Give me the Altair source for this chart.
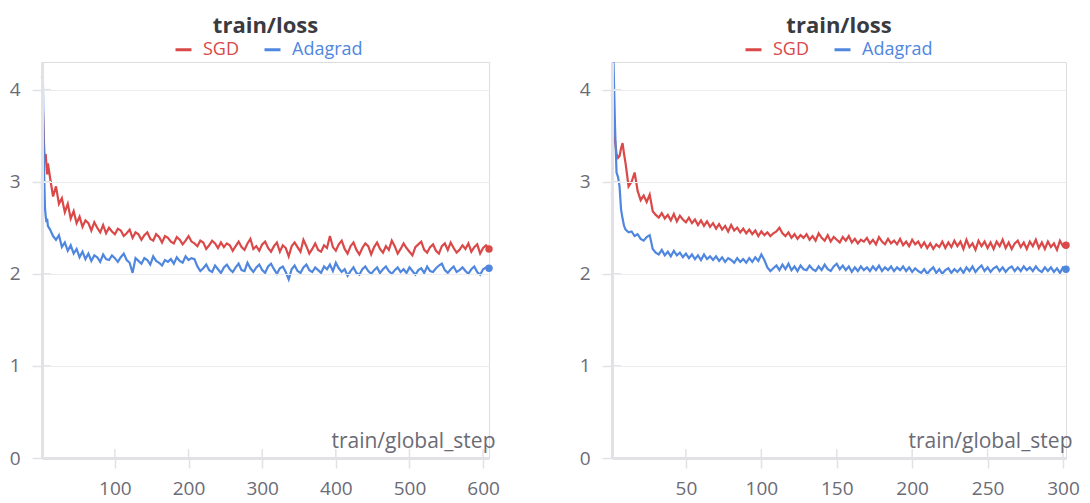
import altair as alt
import pandas as pd

RED = "#da4848"
BLUE = "#4f87df"
AXIS_C = "#e2e2e6"
GRID_C = "#ececef"
TEXT_C = "#6b6b76"
TITLE_C = "#3a3a3f"
FONT = "Open Sans"

SERIES = ["SGD", "Adagrad"]
Y_TICKS = [0, 1, 2, 3, 4]
L_XTICKS = [100, 200, 300, 400, 500, 600]
R_XTICKS = [50, 100, 150, 200, 250, 300]

# ---- left panel (train/global_step 1..608) ----
L_STEPS = list(range(1, 10)) + list(range(12, 609, 4))
L_SGD = [
    4.15, 3.85, 3.6, 3.35, 3.22, 3.3, 3.18, 3.08, 3.2,
    3.04, 2.84, 2.95, 2.76, 2.82, 2.67, 2.76, 2.6, 2.68, 2.55,
    2.62, 2.51, 2.58, 2.55, 2.47, 2.56, 2.5, 2.45, 2.53, 2.44,
    2.5, 2.46, 2.43, 2.49, 2.47, 2.41, 2.44, 2.48, 2.39, 2.45,
    2.43, 2.37, 2.42, 2.45, 2.38, 2.36, 2.43, 2.4, 2.34, 2.41,
    2.39, 2.35, 2.33, 2.4, 2.37, 2.32, 2.36, 2.41, 2.35, 2.33,
    2.3, 2.36, 2.34, 2.27, 2.31, 2.36, 2.33, 2.28, 2.34, 2.29,
    2.33, 2.31, 2.25, 2.3, 2.35, 2.29, 2.26, 2.33, 2.38, 2.27,
    2.3, 2.25, 2.32, 2.35, 2.28, 2.24, 2.3, 2.34, 2.24, 2.31,
    2.28, 2.19, 2.3, 2.34, 2.29, 2.24, 2.37, 2.3, 2.22, 2.27,
    2.33, 2.26, 2.24, 2.31, 2.28, 2.41, 2.29, 2.25, 2.32, 2.36,
    2.27, 2.22, 2.3, 2.34, 2.26, 2.21, 2.28, 2.33, 2.3, 2.21,
    2.29, 2.34, 2.27, 2.23, 2.3, 2.26, 2.36, 2.3, 2.22, 2.27,
    2.33, 2.28, 2.24, 2.2, 2.29, 2.32, 2.35, 2.26, 2.23, 2.29,
    2.32, 2.25, 2.22, 2.3, 2.33, 2.26, 2.34, 2.28, 2.23, 2.26,
    2.31, 2.27, 2.33, 2.24, 2.29, 2.32, 2.22, 2.28, 2.31, 2.27,
]
L_ADA = [
    2.92, 4.28, 3.55, 3.05, 2.72, 2.63, 2.56, 2.6, 2.52,
    2.48, 2.41, 2.37, 2.42, 2.29, 2.34, 2.25, 2.31, 2.22, 2.27,
    2.18, 2.24, 2.16, 2.22, 2.14, 2.2, 2.18, 2.13, 2.21, 2.16,
    2.15, 2.2, 2.17, 2.13, 2.18, 2.22, 2.15, 2.12, 2.01, 2.17,
    2.14, 2.11, 2.17, 2.15, 2.1, 2.19, 2.14, 2.12, 2.09, 2.15,
    2.13, 2.16, 2.11, 2.18, 2.14, 2.12, 2.19, 2.15, 2.17, 2.16,
    2.08, 2.03, 2.06, 2.1, 2.04, 2.02, 2.09, 2.05, 2.01, 2.07,
    2.1, 2.05, 2.02, 2.07, 2.11, 2.04, 2.03, 2.12, 2.06, 2.02,
    2.07, 2.1, 2.04, 2.01, 2.08, 2.11, 2.05, 2.0, 2.06, 2.08,
    2.02, 1.94, 2.05, 2.09, 2.03, 2.01, 2.07, 2.1, 2.04, 2.02,
    2.07, 2.04, 2.01, 2.08, 2.05, 2.1, 2.03, 2.12, 2.06, 2.02,
    2.05, 1.98, 2.03, 2.07, 2.01, 1.99, 2.05, 2.08, 2.03, 2.0,
    2.04, 2.07, 2.01, 2.05, 2.08, 2.03, 2.0, 2.04, 2.07, 2.02,
    2.05, 2.01, 2.07, 2.03, 1.99, 2.04, 2.06, 2.01, 2.08, 2.03,
    2.02, 2.06, 2.09, 2.11, 2.04, 2.01, 2.05, 2.08, 2.02, 2.04,
    2.07, 2.03, 2.0, 2.05, 2.08, 2.02, 1.99, 2.05, 2.07, 2.06,
]

# ---- right panel (train/global_step 1..302) ----
R_STEPS = list(range(1, 10)) + list(range(10, 303, 2))
R_SGD = [
    3.95, 3.6, 3.45, 3.3, 3.26, 3.28, 3.36, 3.42, 3.3,
    3.2, 2.95, 3.0, 3.1, 2.9, 2.8, 2.85, 2.78, 2.86, 2.68,
    2.64, 2.61, 2.66, 2.6, 2.64, 2.58, 2.65, 2.57, 2.63, 2.59,
    2.56, 2.61, 2.55, 2.59, 2.53, 2.58, 2.52, 2.57, 2.51, 2.55,
    2.49, 2.54, 2.48, 2.52, 2.46, 2.53, 2.47, 2.5, 2.45, 2.49,
    2.44, 2.48, 2.43, 2.47, 2.41, 2.46, 2.42, 2.45, 2.41, 2.44,
    2.46, 2.5, 2.44, 2.41, 2.45, 2.39, 2.43, 2.38, 2.42, 2.39,
    2.43, 2.37, 2.41, 2.36, 2.44, 2.39, 2.36, 2.42, 2.35, 2.4,
    2.37, 2.34, 2.4, 2.36, 2.41, 2.34, 2.38, 2.33, 2.37, 2.35,
    2.39, 2.33, 2.37, 2.32, 2.4, 2.35, 2.32, 2.38, 2.33, 2.36,
    2.32, 2.38, 2.31, 2.35, 2.3, 2.37, 2.32, 2.35, 2.29, 2.34,
    2.28, 2.33, 2.27, 2.32, 2.29, 2.35, 2.28, 2.34, 2.29, 2.36,
    2.3, 2.35, 2.27, 2.37, 2.29, 2.33, 2.26, 2.36, 2.3, 2.35,
    2.28, 2.34, 2.27, 2.35, 2.3, 2.37, 2.28, 2.34, 2.27, 2.33,
    2.36, 2.29, 2.34, 2.27, 2.35, 2.3, 2.37, 2.28, 2.34, 2.27,
    2.35, 2.29, 2.33, 2.26, 2.36, 2.3, 2.31,
]
R_ADA = [
    2.84, 4.3, 3.6, 3.1, 3.05, 2.95, 2.7, 2.6, 2.52,
    2.48, 2.45, 2.46, 2.41, 2.43, 2.38, 2.36, 2.4, 2.42, 2.27,
    2.23, 2.21, 2.26, 2.2, 2.24, 2.19, 2.25, 2.2, 2.23, 2.18,
    2.22, 2.17, 2.21, 2.16, 2.2, 2.15, 2.21, 2.16, 2.19, 2.15,
    2.19, 2.14, 2.18, 2.13, 2.17, 2.15, 2.12, 2.17, 2.13, 2.16,
    2.12, 2.17, 2.13, 2.18, 2.14, 2.21, 2.15, 2.07, 2.03, 2.06,
    2.09, 2.04, 2.1, 2.05, 2.11, 2.04, 2.08, 2.03, 2.09, 2.05,
    2.04, 2.09, 2.05, 2.03, 2.08, 2.04, 2.1, 2.05, 2.03, 2.08,
    2.11, 2.05, 2.09, 2.04, 2.08, 2.02, 2.07, 2.03, 2.08, 2.04,
    2.07, 2.03, 2.08, 2.04, 2.09, 2.03, 2.07, 2.04, 2.08, 2.03,
    2.07, 2.04, 2.08, 2.03, 2.07, 2.02, 2.06, 2.03, 2.01, 2.05,
    2.0, 2.04, 2.07, 2.01, 2.05, 2.0, 2.04, 2.06, 2.01, 2.05,
    2.02, 2.06, 2.01, 2.07, 2.03, 2.08, 2.02, 2.06, 2.09, 2.03,
    2.07, 2.02, 2.06, 2.08, 2.03, 2.07, 2.02, 2.06, 2.08, 2.03,
    2.07, 2.03, 2.08, 2.04, 2.07, 2.03, 2.08, 2.04, 2.02, 2.07,
    2.03, 2.07, 2.02, 2.06, 2.01, 2.07, 2.05,
]

H = 396


def panel(steps, sgd, ada, xticks, width):
    n = len(steps)
    df = pd.DataFrame({
        "step": steps + steps,
        "loss": sgd + ada,
        "run": ["SGD"] * n + ["Adagrad"] * n,
    })
    last = df.groupby("run").tail(1)
    xmax = max(steps)
    xmin = min(steps)

    color = alt.Color(
        "run:N",
        scale=alt.Scale(domain=SERIES, range=[RED, BLUE]),
        legend=alt.Legend(
            title=None, orient="none", direction="horizontal",
            legendX=132, legendY=-22,
            symbolType="stroke", symbolSize=256, symbolStrokeWidth=3,
            labelFontSize=18, labelFont=FONT, labelOffset=10,
            columnPadding=18,
            labelColor={"expr": f"datum.label == 'SGD' ? '{RED}' : '{BLUE}'"},
        ),
    )
    x = alt.X(
        "step:Q",
        scale=alt.Scale(domain=[xmin, xmax], nice=False, zero=False),
        axis=alt.Axis(
            values=xticks, grid=False, domainColor=AXIS_C, domainWidth=3,
            tickColor=AXIS_C, tickWidth=1.5, tickSize=10,
            labelFontSize=19, labelColor=TEXT_C, labelFont=FONT, labelPadding=11,
            title="train/global_step", titleFontSize=21, titleFontWeight="normal",
            titleColor=TEXT_C, titleFont=FONT, titleAnchor="end", titleAlign="right",
            titleBaseline="alphabetic", titleX=width + 6, titleY=-11, zindex=1,
        ),
    )
    y = alt.Y(
        "loss:Q",
        scale=alt.Scale(domain=[0, 4.3], nice=False),
        axis=alt.Axis(
            values=Y_TICKS, format="d", grid=True, gridColor=GRID_C, gridWidth=1,
            domainColor=AXIS_C, domainWidth=3, tickColor=AXIS_C, tickWidth=1.5,
            tickSize=10, labelFontSize=19, labelColor=TEXT_C, labelFont=FONT,
            labelPadding=12, title=None, zindex=1,
        ),
    )
    lines = alt.Chart(df).mark_line(strokeWidth=2.2).encode(x=x, y=y, color=color)
    ends = alt.Chart(last).mark_circle(size=55, opacity=1).encode(
        x="step:Q", y="loss:Q",
        color=alt.Color("run:N", scale=alt.Scale(domain=SERIES, range=[RED, BLUE]), legend=None),
    )
    ytick_in = alt.Chart(pd.DataFrame({"v": Y_TICKS})).mark_rule(
        color=AXIS_C, strokeWidth=1.5
    ).encode(y="v:Q", x=alt.value(0), x2=alt.value(9))
    xtick_in = alt.Chart(pd.DataFrame({"s": xticks})).mark_rule(
        color=AXIS_C, strokeWidth=1.5
    ).encode(x="s:Q", y=alt.value(H - 9), y2=alt.value(H))

    return alt.layer(lines, ends, ytick_in, xtick_in).properties(
        width=width, height=H,
        title=alt.TitleParams(
            "train/loss", fontSize=22, fontWeight="bold", color=TITLE_C,
            font=FONT, offset=2, anchor="middle",
        ),
    )


left = panel(L_STEPS, L_SGD, L_ADA, L_XTICKS, 447)
right = panel(R_STEPS, R_SGD, R_ADA, R_XTICKS, 454)

chart = alt.hconcat(left, right, spacing=123, bounds="flush").resolve_scale(
    x="independent", y="independent", color="independent"
).properties(
    padding={"left": 0, "top": 6, "right": 0, "bottom": 0}
).configure_view(stroke=None).configure(font=FONT)

chart.save("out.html", embed_options={"renderer": "svg", "actions": False})
